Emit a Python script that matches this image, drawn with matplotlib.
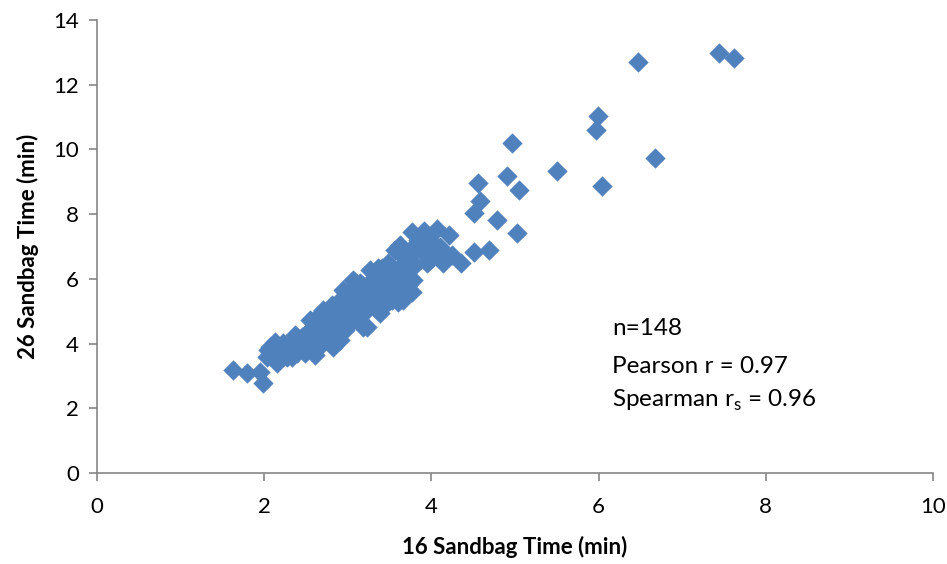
import matplotlib
matplotlib.use("Agg")
import matplotlib.pyplot as plt
import numpy as np

plt.rcParams['font.family'] = ['Lato', 'DejaVu Sans']

# 16 sandbag time (min)
x16 = [7.44, 7.62, 6.47, 5.99, 5.97, 6.67, 6.04, 4.96, 5.50, 4.90, 5.05, 4.56, 4.58, 4.51, 4.78, 5.02, 4.69, 4.51, 4.35,
       4.21, 4.07, 3.91, 3.77, 4.25, 4.14, 3.98, 3.78, 3.66, 3.62, 3.78, 3.54, 3.66, 3.62, 3.86, 3.71, 4.10, 3.95,
       3.54, 3.47, 3.42, 3.27, 3.35, 3.06, 3.15, 2.94, 3.15, 3.35, 3.23, 2.99, 2.87, 2.70, 2.55, 2.51, 2.82, 2.67,
       3.03, 3.39, 3.18, 3.60, 3.77, 3.06, 2.99, 3.23, 2.75, 2.63, 2.58, 2.82, 2.46, 2.22, 2.07, 2.03, 2.15, 2.39,
       2.27, 1.63, 1.79, 1.95, 1.99, 2.05, 2.13, 2.34, 2.33, 2.45, 2.49, 2.61, 2.57, 2.69, 2.76, 2.85, 2.91,
       2.25, 2.37, 2.43, 2.55, 2.64, 2.73, 2.79, 2.88, 2.97, 3.05, 3.12, 3.17, 3.24, 3.29, 3.33, 3.39, 3.44, 3.50,
       3.56, 3.60, 3.68, 3.72, 3.74, 3.80, 3.84, 3.92, 3.98, 4.04, 4.16, 3.48, 3.41, 3.29, 3.21, 3.10, 3.00, 2.91,
       2.81, 2.76, 2.67, 2.57, 2.49, 2.40, 2.31, 2.21, 2.11, 2.17, 2.64, 2.97, 3.09, 3.18, 3.31, 3.44, 3.53, 3.62,
       3.68, 3.56, 3.36, 3.17]

# 26 sandbag time (min)
y26 = [12.98, 12.82, 12.70, 11.03, 10.60, 9.73, 8.87, 10.20, 9.33, 9.18, 8.75, 8.96, 8.41, 8.03, 7.82, 7.42, 6.89, 6.83, 6.49,
       7.35, 7.54, 7.48, 7.45, 6.74, 6.49, 6.58, 6.98, 6.67, 6.37, 5.96, 5.59, 5.35, 7.05, 6.89, 6.58, 6.98, 6.49,
       6.06, 5.25, 5.75, 6.27, 6.18, 5.96, 5.87, 5.66, 5.44, 5.04, 4.51, 5.13, 4.82, 5.04, 4.73, 4.33, 4.20, 4.02,
       4.64, 4.94, 4.51, 5.28, 5.59, 5.75, 5.35, 5.56, 4.82, 4.82, 4.11, 3.89, 4.11, 4.02, 3.89, 3.58, 3.40, 3.71,
       3.58, 3.18, 3.09, 3.12, 2.78, 3.80, 4.05, 4.02, 3.58, 4.20, 3.71, 3.65, 4.48, 4.73, 4.94, 4.33, 4.11,
       3.80, 4.26, 3.96, 4.11, 4.42, 4.26, 4.57, 4.67, 4.88, 5.04, 5.19, 4.88, 5.35, 5.66, 5.87, 5.50, 5.96, 6.27,
       5.81, 6.12, 6.27, 5.81, 6.74, 6.43, 7.20, 7.05, 7.20, 6.74, 6.74, 6.49, 6.34, 5.19, 5.04, 5.41, 5.59, 5.35,
       5.19, 4.42, 4.57, 3.96, 3.86, 4.17, 3.86, 3.65, 3.65, 3.86, 3.86, 4.42, 4.79, 5.56, 6.03, 5.66, 5.35, 5.66,
       5.96, 6.89, 6.34, 5.81]

n_label = "n=148"
pearson_label = "Pearson r = 0.97"
spearman_label = r"Spearman r$_\mathregular{s}$ = 0.96"

fig = plt.figure(figsize=(9.47, 5.64), dpi=100)
ax = fig.add_axes([97/947, 1-473/564, (933-97)/947, (473-20)/564])

ax.scatter(x16, y26, marker='D', s=10**2, color='#4F81BD', edgecolors='#4F81BD', linewidths=0.3, zorder=3)

ax.set_xlim(0, 10)
ax.set_ylim(0, 14)
ax.set_xticks(np.arange(0, 11, 2))
ax.set_yticks(np.arange(0, 15, 2))

for s in ['top', 'right']:
    ax.spines[s].set_visible(False)
for s in ['left', 'bottom']:
    ax.spines[s].set_color('#868686')
    ax.spines[s].set_linewidth(1.2)
ax.tick_params(axis='both', direction='out', length=6, width=1.2, color='#868686',
               labelsize=16, labelcolor='black')
ax.tick_params(axis='x', pad=11)
ax.tick_params(axis='y', pad=7)

ax.set_xlabel("16 Sandbag Time (min)", fontsize=16, fontweight='bold', labelpad=14)
ax.set_ylabel("26 Sandbag Time (min)", fontsize=16, fontweight='bold', labelpad=10)

tx = (612-97)/83.6
ax.text(tx, (473-328)/32.36, n_label, fontsize=17.5, va='center', ha='left')
ax.text(tx, (473-366)/32.36, pearson_label, fontsize=17.5, va='center', ha='left')
ax.text(tx, (473-400)/32.36, spearman_label, fontsize=17.5, va='center', ha='left')

fig.savefig("out.png", dpi=100)
